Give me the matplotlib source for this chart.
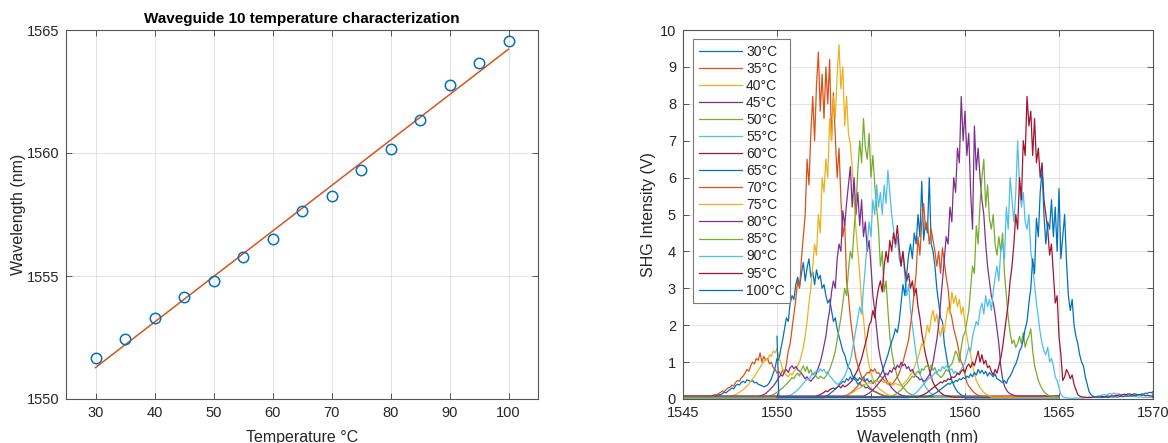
import numpy as np
import matplotlib.pyplot as plt

plt.rcParams['font.family'] = ['Liberation Sans', 'DejaVu Sans']

# ---- left panel: peak wavelength vs temperature ----
temps = [30, 35, 40, 45, 50, 55, 60, 65, 70, 75, 80, 85, 90, 95, 100]
peak_nm = [1551.66, 1552.44, 1553.28, 1554.13, 1554.79, 1555.76, 1556.49, 1557.65,
           1558.24, 1559.29, 1560.17, 1561.33, 1562.77, 1563.67, 1564.56]

# ---- right panel: SHG spectra, sampled every 0.1 nm from seg_start ----
step_nm = 0.1
seg_start = [1546.5, 1546.5, 1547.5, 1549.0, 1549.5, 1550.5, 1552.0, 1552.5,
             1553.5, 1553.5, 1554.5, 1556.0, 1557.0, 1557.5, 1558.0]
span_lo = [1545] * 12 + [1550] * 3
span_hi = [1565] * 12 + [1570] * 3
base_v = [0.06, 0.08, 0.05, 0.07, 0.04, 0.06, 0.05, 0.03, 0.07, 0.05, 0.08, 0.04, 0.03, 0.05, 0.06]
first_v = [0.06, 0.08, 0.05, 0.07, 0.04, 0.06, 0.05, 0.03, 0.07, 0.05, 0.08, 0.04, 0.03, 0.05, 1.70]

s30 = [0.06, 0.08, 0.07, 0.10, 0.12, 0.11, 0.15, 0.18, 0.17, 0.22,
       0.25, 0.30, 0.28, 0.36, 0.40, 0.38, 0.45, 0.48, 0.44, 0.52,
       0.50, 0.47, 0.50, 0.44, 0.45, 0.40, 0.38, 0.36, 0.33, 0.35,
       0.38, 0.45, 0.55, 0.70, 0.85, 1.10, 1.05, 1.35, 1.60, 1.90,
       2.20, 2.10, 2.60, 2.80, 2.70, 3.10, 3.30, 3.05, 3.40, 3.70,
       3.20, 3.55, 3.80, 3.30, 3.45, 3.10, 3.50, 3.25, 3.35, 3.00,
       3.10, 2.80, 2.60, 2.70, 2.40, 2.10, 2.20, 1.90, 1.70, 1.50,
       1.30, 1.20, 1.00, 0.85, 0.80, 0.65, 0.55, 0.50, 0.40, 0.45,
       0.35, 0.38, 0.30, 0.32, 0.28, 0.25, 0.22, 0.20, 0.18, 0.15,
       0.12, 0.10, 0.09, 0.08, 0.07, 0.06]
s35 = [0.08, 0.10, 0.12, 0.11, 0.15, 0.18, 0.22, 0.20, 0.26, 0.30,
       0.32, 0.38, 0.35, 0.45, 0.50, 0.48, 0.58, 0.62, 0.70, 0.80,
       0.75, 0.90, 1.00, 0.95, 1.10, 1.05, 1.25, 1.00, 1.15, 1.05,
       1.10, 0.95, 1.00, 0.85, 0.80, 0.70, 0.75, 0.65, 0.80, 0.70,
       0.95, 1.30, 1.50, 1.90, 2.30, 2.70, 3.20, 3.00, 3.80, 4.40,
       5.00, 6.50, 5.80, 7.20, 8.20, 7.00, 8.50, 9.40, 7.80, 8.80,
       7.60, 9.00, 8.00, 9.20, 7.00, 8.30, 7.10, 6.00, 6.80, 5.40,
       4.40, 4.80, 3.20, 2.80, 2.20, 1.80, 1.40, 1.10, 0.90, 0.75,
       0.60, 0.50, 0.45, 0.38, 0.32, 0.28, 0.24, 0.20, 0.18, 0.15,
       0.13, 0.11, 0.10, 0.09, 0.08, 0.08]
s40 = [0.06, 0.08, 0.10, 0.12, 0.15, 0.18, 0.22, 0.25, 0.30, 0.35,
       0.40, 0.48, 0.55, 0.60, 0.70, 0.78, 0.85, 0.95, 1.00, 1.10,
       1.05, 1.20, 1.15, 1.30, 1.25, 1.37, 1.10, 1.00, 0.80, 0.70,
       0.65, 0.60, 0.70, 0.65, 0.75, 0.80, 0.90, 1.00, 1.20, 1.40,
       1.70, 2.10, 2.60, 3.00, 3.60, 4.20, 3.90, 5.00, 4.50, 6.00,
       5.60, 6.50, 6.00, 7.60, 7.00, 8.20, 7.60, 8.80, 9.60, 8.40,
       9.00, 7.40, 8.20, 7.20, 6.90, 6.30, 5.40, 4.60, 4.00, 3.40,
       2.60, 2.20, 1.60, 1.20, 0.90, 0.70, 0.55, 0.45, 0.35, 0.30,
       0.25, 0.22, 0.18, 0.15, 0.12, 0.10, 0.09, 0.08, 0.07, 0.05]
s45 = [0.07, 0.08, 0.10, 0.12, 0.15, 0.20, 0.24, 0.30, 0.35, 0.42,
       0.50, 0.58, 0.65, 0.62, 0.75, 0.80, 0.72, 0.85, 0.90, 0.82,
       0.88, 0.80, 0.75, 0.70, 0.62, 0.55, 0.60, 0.52, 0.48, 0.55,
       0.60, 0.70, 0.85, 1.00, 1.20, 1.45, 1.70, 2.10, 2.40, 2.90,
       3.20, 3.00, 3.80, 4.20, 4.00, 5.10, 4.70, 5.30, 5.80, 6.30,
       5.20, 6.00, 5.00, 5.60, 4.70, 5.40, 4.40, 4.80, 4.00, 4.30,
       3.60, 2.80, 2.40, 1.90, 1.40, 1.10, 0.90, 0.70, 0.55, 0.45,
       0.38, 0.30, 0.25, 0.20, 0.16, 0.13, 0.11, 0.09, 0.08, 0.07]
s50 = [0.04, 0.08, 0.10, 0.12, 0.15, 0.18, 0.22, 0.26, 0.30, 0.35,
       0.40, 0.45, 0.52, 0.58, 0.55, 0.65, 0.70, 0.62, 0.80, 0.90,
       0.75, 0.88, 0.70, 0.80, 0.65, 0.72, 0.60, 0.55, 0.62, 0.58,
       0.55, 0.62, 0.70, 0.80, 0.95, 1.10, 1.30, 1.60, 1.90, 2.20,
       2.60, 3.00, 2.80, 3.50, 4.00, 3.80, 4.60, 5.20, 6.20, 7.00,
       6.40, 7.60, 6.80, 6.50, 7.20, 6.00, 6.60, 5.80, 5.20, 4.60,
       3.60, 4.00, 2.90, 3.20, 2.40, 1.70, 1.30, 1.00, 0.80, 0.60,
       0.48, 0.40, 0.32, 0.26, 0.20, 0.16, 0.13, 0.11, 0.09, 0.04]
s55 = [0.06, 0.08, 0.10, 0.13, 0.16, 0.20, 0.25, 0.30, 0.36, 0.42,
       0.48, 0.55, 0.52, 0.62, 0.70, 0.65, 0.78, 0.72, 0.82, 0.75,
       0.80, 0.70, 0.74, 0.62, 0.58, 0.50, 0.45, 0.40, 0.42, 0.48,
       0.55, 0.62, 0.75, 0.90, 1.05, 1.30, 1.60, 1.90, 2.20, 2.50,
       2.30, 3.00, 3.60, 4.20, 4.80, 4.40, 5.40, 5.00, 5.80, 5.20,
       5.60, 5.00, 5.80, 5.30, 6.20, 5.60, 5.00, 4.60, 4.10, 4.40,
       3.80, 3.60, 4.00, 3.30, 2.80, 3.10, 2.40, 2.00, 1.60, 1.20,
       0.90, 0.70, 0.55, 0.42, 0.33, 0.26, 0.20, 0.15, 0.12, 0.06]
s60 = [0.05, 0.08, 0.10, 0.12, 0.15, 0.18, 0.22, 0.20, 0.25, 0.28,
       0.30, 0.26, 0.32, 0.35, 0.30, 0.38, 0.33, 0.36, 0.40, 0.45,
       0.50, 0.60, 0.70, 0.80, 0.95, 1.10, 1.30, 1.50, 1.70, 2.00,
       2.10, 2.40, 2.20, 2.70, 3.00, 3.20, 2.90, 3.60, 4.00, 3.70,
       4.30, 4.00, 4.50, 4.20, 4.70, 4.10, 3.60, 4.00, 3.50, 3.20,
       3.40, 3.00, 3.20, 2.80, 3.00, 2.50, 2.20, 1.80, 1.50, 1.20,
       1.00, 0.80, 0.60, 0.45, 0.35, 0.28, 0.22, 0.17, 0.13, 0.10,
       0.09, 0.08, 0.07, 0.06, 0.05]
s65 = [0.03, 0.08, 0.10, 0.14, 0.18, 0.22, 0.28, 0.32, 0.38, 0.42,
       0.48, 0.45, 0.55, 0.50, 0.60, 0.52, 0.62, 0.55, 0.50, 0.58,
       0.52, 0.60, 0.48, 0.55, 0.45, 0.50, 0.42, 0.48, 0.50, 0.58,
       0.65, 0.75, 0.90, 1.05, 1.20, 1.40, 1.55, 1.70, 1.90, 1.80,
       2.10, 2.60, 3.10, 2.80, 3.40, 3.90, 4.20, 3.80, 4.50, 4.20,
       5.00, 4.40, 5.90, 4.30, 4.80, 4.50, 6.00, 4.20, 4.00, 3.60,
       3.00, 2.60, 2.20, 2.10, 1.50, 1.20, 0.90, 0.70, 0.50, 0.38,
       0.28, 0.20, 0.15, 0.11, 0.08, 0.03]
s70 = [0.07, 0.08, 0.10, 0.13, 0.16, 0.20, 0.25, 0.30, 0.36, 0.42,
       0.50, 0.58, 0.65, 0.72, 0.70, 0.80, 0.75, 0.82, 0.70, 0.72,
       0.62, 0.58, 0.50, 0.45, 0.40, 0.42, 0.38, 0.45, 0.52, 0.60,
       0.70, 0.85, 1.00, 1.20, 1.40, 1.60, 2.00, 2.40, 2.90, 3.40,
       4.40, 3.90, 4.80, 5.30, 4.60, 4.80, 4.20, 4.60, 4.30, 4.00,
       3.60, 4.00, 3.40, 4.10, 3.70, 3.30, 3.00, 2.40, 2.20, 1.90,
       1.70, 1.50, 1.20, 1.00, 0.90, 0.65, 0.45, 0.35, 0.28, 0.22,
       0.17, 0.13, 0.10, 0.09, 0.07, 0.07]
s75 = [0.05, 0.07, 0.09, 0.11, 0.14, 0.17, 0.20, 0.24, 0.28, 0.30,
       0.33, 0.36, 0.40, 0.38, 0.45, 0.42, 0.48, 0.44, 0.50, 0.46,
       0.52, 0.48, 0.45, 0.50, 0.42, 0.46, 0.40, 0.38, 0.42, 0.40,
       0.38, 0.35, 0.40, 0.45, 0.50, 0.58, 0.65, 0.72, 0.85, 1.00,
       1.10, 1.30, 1.50, 1.40, 1.70, 2.00, 1.80, 2.20, 2.40, 2.10,
       2.30, 1.90, 1.70, 2.00, 1.80, 2.20, 2.50, 2.30, 2.90, 2.60,
       2.80, 2.50, 2.70, 2.30, 2.50, 2.00, 1.70, 1.40, 1.20, 0.90,
       0.70, 0.50, 0.40, 0.30, 0.24, 0.18, 0.14, 0.11, 0.09, 0.05]
s80 = [0.08, 0.08, 0.10, 0.13, 0.16, 0.20, 0.25, 0.30, 0.36, 0.42,
       0.48, 0.55, 0.62, 0.70, 0.65, 0.78, 0.72, 0.85, 0.80, 0.92,
       0.85, 1.00, 0.90, 0.95, 0.82, 0.88, 0.75, 0.80, 0.68, 0.62,
       0.58, 0.52, 0.55, 0.48, 0.50, 0.58, 0.65, 0.80, 1.00, 1.30,
       1.60, 2.00, 2.60, 3.20, 3.80, 4.40, 4.20, 5.20, 4.80, 6.00,
       5.60, 6.80, 6.40, 8.20, 7.00, 7.80, 6.60, 7.20, 5.60, 4.60,
       7.40, 6.20, 6.80, 6.00, 5.40, 5.00, 4.20, 3.60, 3.20, 2.80,
       2.60, 2.30, 1.90, 1.50, 0.90, 0.55, 0.35, 0.25, 0.18, 0.14,
       0.12, 0.10, 0.09, 0.08, 0.08, 0.08]
s85 = [0.04, 0.08, 0.10, 0.13, 0.16, 0.20, 0.25, 0.30, 0.36, 0.42,
       0.48, 0.55, 0.62, 0.58, 0.70, 0.75, 0.68, 0.82, 0.78, 0.88,
       0.90, 0.82, 0.92, 0.78, 0.85, 0.70, 0.65, 0.58, 0.62, 0.70,
       0.80, 0.75, 0.90, 0.95, 1.10, 1.30, 1.20, 1.00, 1.40, 1.70,
       1.80, 2.10, 2.40, 3.00, 3.60, 3.40, 4.70, 4.20, 5.30, 6.00,
       6.50, 5.20, 5.80, 4.90, 4.60, 5.00, 4.20, 3.90, 4.40, 4.00,
       4.50, 3.40, 2.80, 2.20, 1.80, 1.50, 1.60, 1.40, 1.50, 1.70,
       1.50, 1.80, 1.40, 1.60, 1.70, 1.90, 1.30, 0.90, 0.70, 0.50,
       0.38, 0.28, 0.20, 0.15, 0.11, 0.09, 0.08, 0.07, 0.06, 0.05]
s90 = [0.03, 0.08, 0.10, 0.13, 0.17, 0.22, 0.28, 0.34, 0.40, 0.46,
       0.52, 0.58, 0.55, 0.65, 0.72, 0.68, 0.80, 0.75, 0.88, 0.82,
       0.90, 0.85, 0.78, 0.82, 0.70, 0.75, 0.68, 0.72, 0.80, 0.90,
       1.00, 1.20, 1.40, 1.30, 1.70, 1.90, 2.10, 2.00, 2.40, 2.60,
       2.30, 2.80, 2.50, 2.70, 2.40, 2.90, 3.30, 3.60, 3.20, 4.00,
       4.20, 3.80, 5.20, 4.60, 6.00, 5.40, 4.80, 5.60, 7.00, 5.80,
       5.20, 5.60, 4.80, 4.60, 5.00, 4.00, 3.60, 3.10, 2.60, 2.20,
       1.80, 1.50, 1.30, 1.20, 1.40, 1.00, 1.10, 0.90, 0.60, 0.50,
       0.30, 0.12, 0.06, 0.04, 0.03, 0.03, 0.02, 0.02, 0.02, 0.03,
       0.02, 0.03, 0.02, 0.03, 0.03, 0.04, 0.03, 0.04, 0.05, 0.06,
       0.07, 0.09, 0.08, 0.11, 0.12, 0.10, 0.13, 0.15, 0.13, 0.16,
       0.15, 0.13, 0.14, 0.11, 0.12, 0.09, 0.10, 0.08, 0.07, 0.08,
       0.06, 0.07, 0.05, 0.06, 0.05, 0.04, 0.05, 0.04, 0.05, 0.04, 0.05]
s95 = [0.05, 0.08, 0.10, 0.12, 0.15, 0.18, 0.22, 0.26, 0.30, 0.34,
       0.38, 0.42, 0.46, 0.44, 0.50, 0.48, 0.55, 0.52, 0.60, 0.58,
       0.62, 0.70, 0.66, 0.75, 0.80, 0.72, 0.88, 0.95, 0.85, 1.00,
       0.90, 1.10, 1.30, 1.00, 1.20, 0.95, 1.05, 0.85, 0.90, 0.75,
       0.65, 0.80, 0.70, 0.90, 1.10, 1.40, 1.80, 2.20, 2.60, 3.20,
       3.60, 4.20, 5.00, 4.60, 6.00, 5.40, 7.00, 6.60, 8.20, 7.40,
       7.80, 6.60, 7.60, 6.40, 6.80, 6.00, 6.40, 5.40, 5.00, 4.60,
       3.90, 4.20, 3.40, 2.60, 2.80, 1.70, 1.20, 0.50, 0.60, 0.80,
       0.70, 0.55, 0.65, 0.40, 0.25, 0.12, 0.08, 0.06, 0.05, 0.05,
       0.04, 0.05, 0.04, 0.05, 0.05, 0.06, 0.05, 0.06, 0.07, 0.06,
       0.07, 0.08, 0.07, 0.09, 0.08, 0.10, 0.09, 0.11, 0.10, 0.12,
       0.13, 0.12, 0.14, 0.13, 0.12, 0.14, 0.13, 0.11, 0.12, 0.10,
       0.11, 0.09, 0.10, 0.09, 0.08, 0.09]
s100 = [0.06, 0.08, 0.10, 0.12, 0.15, 0.18, 0.22, 0.26, 0.30, 0.34,
        0.38, 0.42, 0.40, 0.46, 0.44, 0.50, 0.48, 0.55, 0.52, 0.58,
        0.55, 0.62, 0.58, 0.68, 0.60, 0.72, 0.65, 0.80, 0.70, 0.78,
        0.68, 0.75, 0.62, 0.72, 0.66, 0.60, 0.68, 0.55, 0.52, 0.48,
        0.45, 0.50, 0.42, 0.55, 0.62, 0.72, 0.85, 0.95, 1.10, 1.30,
        1.40, 1.60, 1.90, 2.10, 2.60, 3.00, 3.80, 3.40, 4.90, 4.40,
        5.60, 6.20, 5.00, 4.20, 4.80, 4.60, 5.40, 4.40, 5.20, 4.00,
        5.70, 3.80, 4.40, 5.00, 3.70, 2.80, 2.40, 2.70, 2.00, 1.70,
        1.50, 1.20, 1.00, 0.90, 0.60, 0.40, 0.20, 0.12, 0.08, 0.06,
        0.05, 0.04, 0.05, 0.04, 0.05, 0.05, 0.04, 0.05, 0.06, 0.05,
        0.06, 0.05, 0.06, 0.07, 0.06, 0.08, 0.07, 0.08, 0.09, 0.08,
        0.10, 0.09, 0.12, 0.11, 0.14, 0.13, 0.16, 0.15, 0.18, 0.17, 0.20]

spectra = [s30, s35, s40, s45, s50, s55, s60, s65, s70, s75, s80, s85, s90, s95, s100]
labels = [f'{t}°C' for t in temps]

matlab_colors = ['#0072BD', '#D95319', '#EDB120', '#7E2F8E', '#77AC30', '#4DBEEE', '#A2142F']
axis_col = '#262626'


def matlab_axes(ax):
    for s in ax.spines.values():
        s.set_color('#555555')
        s.set_linewidth(0.8)
    ax.tick_params(direction='in', top=True, right=True, length=4, width=0.7,
                   color='#555555', labelcolor=axis_col, labelsize=10.5, pad=5)
    ax.grid(True, color='#e3e3e3', linewidth=0.7)
    ax.set_axisbelow(True)


fig = plt.figure(figsize=(11.68, 4.43), dpi=100)

# left panel
ax1 = fig.add_axes([66 / 1168, 44 / 443, 472 / 1168, 369 / 443])
coef = np.polyfit(temps, peak_nm, 1)
t_arr = np.array(temps)
ax1.plot(t_arr, np.polyval(coef, t_arr), color='#D95319', lw=1.1)
ax1.plot(temps, peak_nm, 'o', mfc='none', mec='#0072BD', ms=7.5, mew=1.1)
ax1.set_xlim(25, 105)
ax1.set_ylim(1550, 1565)
ax1.set_xticks(range(30, 101, 10))
ax1.set_yticks([1550, 1555, 1560, 1565])
ax1.set_xlabel('Temperature °C', fontsize=11.5, color=axis_col, labelpad=7)
ax1.set_ylabel('Wavelength (nm)', fontsize=11.5, color=axis_col, labelpad=0)
ax1.set_title('Waveguide 10 temperature characterization', fontsize=11,
              fontweight='bold', pad=5)
matlab_axes(ax1)

# right panel
ax2 = fig.add_axes([683 / 1168, 44 / 443, 470 / 1168, 369 / 443])
for i, vals in enumerate(spectra):
    seg_x = seg_start[i] + step_nm * np.arange(len(vals))
    x = np.concatenate([[span_lo[i], span_lo[i] + step_nm], seg_x, [span_hi[i]]])
    y = np.concatenate([[first_v[i], base_v[i]], vals, [base_v[i]]])
    ax2.plot(x, y, color=matlab_colors[i % 7], lw=0.9, label=labels[i])
ax2.set_xlim(1545, 1570)
ax2.set_ylim(0, 10)
ax2.set_xticks(range(1545, 1571, 5))
ax2.set_yticks(range(0, 11))
ax2.set_xlabel('Wavelength (nm)', fontsize=11.5, color=axis_col, labelpad=7)
ax2.set_ylabel('SHG Intensity (V)', fontsize=11.5, color=axis_col, labelpad=3)
matlab_axes(ax2)
leg = ax2.legend(loc='upper left', bbox_to_anchor=(0.022, 0.975), borderaxespad=0,
                 fontsize=10, fancybox=False, framealpha=1, edgecolor='#7a7a7a',
                 handlelength=3.1, handletextpad=0.3, labelspacing=0.22, borderpad=0.4)
leg.get_frame().set_linewidth(0.8)
for t in leg.get_texts():
    t.set_color(axis_col)

fig.savefig('out.png', dpi=100)
